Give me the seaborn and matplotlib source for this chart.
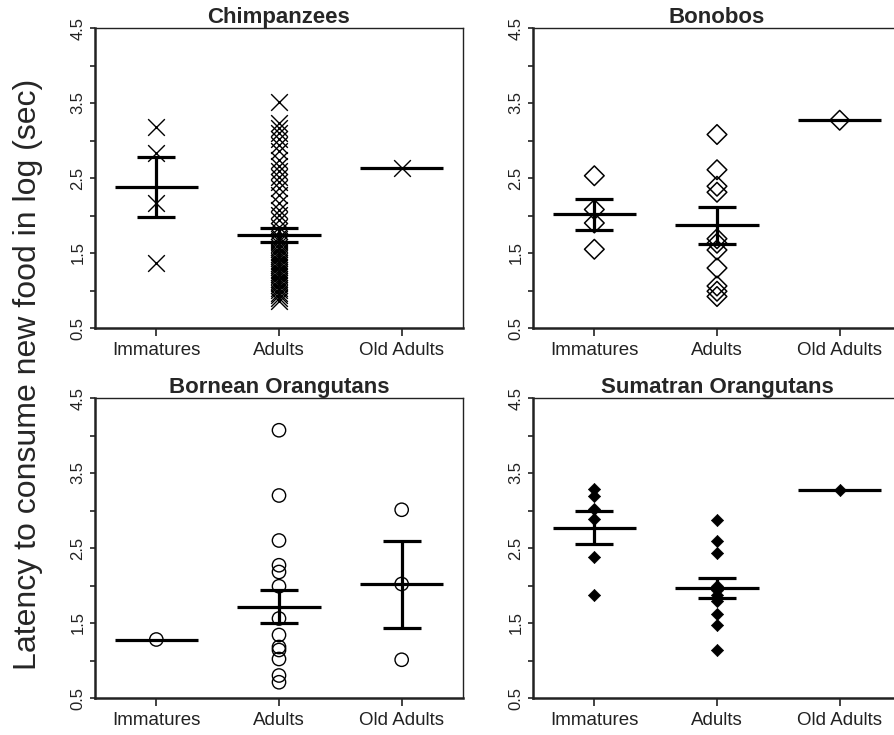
import numpy as np
import pandas as pd
import matplotlib
matplotlib.use("Agg")
import matplotlib.pyplot as plt
import seaborn as sns

categories = ["Immatures", "Adults", "Old Adults"]
panel_titles = ["Chimpanzees", "Bonobos", "Bornean Orangutans", "Sumatran Orangutans"]
ylabel = "Latency to consume new food in log (sec)"
ytick_values = [0.5, 1.0, 1.5, 2.0, 2.5, 3.0, 3.5, 4.0, 4.5]
ytick_labels = ["0.5", "", "1.5", "", "2.5", "", "3.5", "", "4.5"]
nan = np.nan

# Chimpanzees
chimp_immatures = [3.18, 2.83, 2.17, 1.37]
chimp_adults = [3.51, 3.23, 3.17, 3.10, 3.02, 2.94, 2.86, 2.74, 2.66, 2.59,
                2.52, 2.45, 2.37, 2.28, 2.17, 2.08, 2.01, 1.94, 1.85, 1.79,
                1.72, 1.69, 1.66, 1.62, 1.58, 1.55, 1.52, 1.49, 1.46, 1.43,
                1.40, 1.37, 1.34, 1.31, 1.28, 1.25, 1.22, 1.19, 1.16, 1.13,
                1.10, 1.07, 1.04, 1.01, 0.97, 0.94, 0.90, 0.86]
chimp_old = [2.63]
chimp_mean = [2.38, 1.74, 2.63]
chimp_se_hi = [2.78, 1.83, nan]
chimp_se_lo = [1.98, 1.65, nan]

# Bonobos
bonobo_immatures = [2.53, 2.08, 1.90, 1.55]
bonobo_adults = [3.08, 2.61, 2.39, 2.31, 1.69, 1.63, 1.54, 1.30, 1.06, 0.99, 0.92]
bonobo_old = [3.27]
bonobo_mean = [2.02, 1.87, 3.27]
bonobo_se_hi = [2.22, 2.12, nan]
bonobo_se_lo = [1.81, 1.62, nan]

# Bornean orangutans
bornean_immatures = [1.28]
bornean_adults = [4.07, 3.20, 2.60, 2.27, 2.18, 1.99, 1.56, 1.34, 1.18, 1.14, 1.02, 0.80, 0.71]
bornean_old = [3.01, 2.02, 1.01]
bornean_mean = [1.28, 1.71, 2.02]
bornean_se_hi = [nan, 1.94, 2.59]
bornean_se_lo = [nan, 1.50, 1.44]

# Sumatran orangutans
sumatran_immatures = [3.29, 3.19, 3.02, 2.89, 2.38, 1.88]
sumatran_adults = [2.87, 2.60, 2.43, 2.00, 1.94, 1.87, 1.80, 1.62, 1.48, 1.14]
sumatran_old = [3.28]
sumatran_mean = [2.77, 1.97, 3.28]
sumatran_se_hi = [2.99, 2.10, nan]
sumatran_se_lo = [2.55, 1.83, nan]

panels = [
    (chimp_immatures, chimp_adults, chimp_old, chimp_mean, chimp_se_hi, chimp_se_lo,
     dict(marker="x", size=12, linewidth=1.0, color="black")),
    (bonobo_immatures, bonobo_adults, bonobo_old, bonobo_mean, bonobo_se_hi, bonobo_se_lo,
     dict(marker="D", size=10, linewidth=1.1, color="black", facecolor="none", edgecolor="black")),
    (bornean_immatures, bornean_adults, bornean_old, bornean_mean, bornean_se_hi, bornean_se_lo,
     dict(marker="o", size=9.6, linewidth=1.0, color="black", facecolor="none", edgecolor="black")),
    (sumatran_immatures, sumatran_adults, sumatran_old, sumatran_mean, sumatran_se_hi, sumatran_se_lo,
     dict(marker="D", size=6.2, linewidth=0.5, color="black", edgecolor="black")),
]

sns.set_style("ticks")
plt.rcParams["font.family"] = ["Liberation Sans", "DejaVu Sans"]

fig = plt.figure(figsize=(8.94, 7.35), dpi=100)
W, H = 894.0, 735.0
positions = [(95, 28), (533, 28), (95, 398), (533, 398)]
aw, ah = 368, 300

for k, (imm, adu, old, mean, hi, lo, mk) in enumerate(panels):
    x0, y0 = positions[k]
    ax = fig.add_axes([x0 / W, 1 - (y0 + ah) / H, aw / W, ah / H])
    df = pd.DataFrame({
        "group": [categories[0]] * len(imm) + [categories[1]] * len(adu) + [categories[2]] * len(old),
        "value": list(imm) + list(adu) + list(old),
    })
    sns.stripplot(data=df, x="group", y="value", order=categories, jitter=False,
                  ax=ax, zorder=3, **mk)
    xs = np.arange(len(categories))
    ax.hlines(mean, xs - 0.34, xs + 0.34, color="black", lw=2.3, zorder=4)
    hi_a = np.array(hi, dtype=float)
    lo_a = np.array(lo, dtype=float)
    ok = ~np.isnan(hi_a)
    ax.vlines(xs[ok], lo_a[ok], hi_a[ok], color="black", lw=2.3, zorder=4)
    ax.hlines(hi_a[ok], xs[ok] - 0.155, xs[ok] + 0.155, color="black", lw=2.3, zorder=4)
    ax.hlines(lo_a[ok], xs[ok] - 0.155, xs[ok] + 0.155, color="black", lw=2.3, zorder=4)

    ax.set_xlim(-0.5, 2.5)
    ax.set_ylim(0.5, 4.5)
    ax.set_yticks(ytick_values)
    ax.set_yticklabels(ytick_labels, rotation=90, va="center", fontsize=12, color="#222222")
    ax.set_xticks(xs)
    ax.set_xticklabels(categories, fontsize=13.5, color="#222222")
    ax.set_xlabel("")
    ax.set_ylabel("")
    ax.tick_params(axis="y", length=3.8, width=1.2, pad=3, color="#222222")
    ax.tick_params(axis="x", length=6, width=1.2, pad=4, color="#222222")
    for side in ["left", "bottom"]:
        ax.spines[side].set_linewidth(1.8)
        ax.spines[side].set_color("#222222")
    for side in ["top", "right"]:
        ax.spines[side].set_linewidth(1.0)
        ax.spines[side].set_color("#222222")
    ax.set_title(panel_titles[k], fontsize=16, fontweight="bold", pad=2.5)

fig.text(28 / W, 1 - 374.5 / H, ylabel, rotation=90, ha="center", va="center", fontsize=23)

fig.savefig("out.png", dpi=100)
